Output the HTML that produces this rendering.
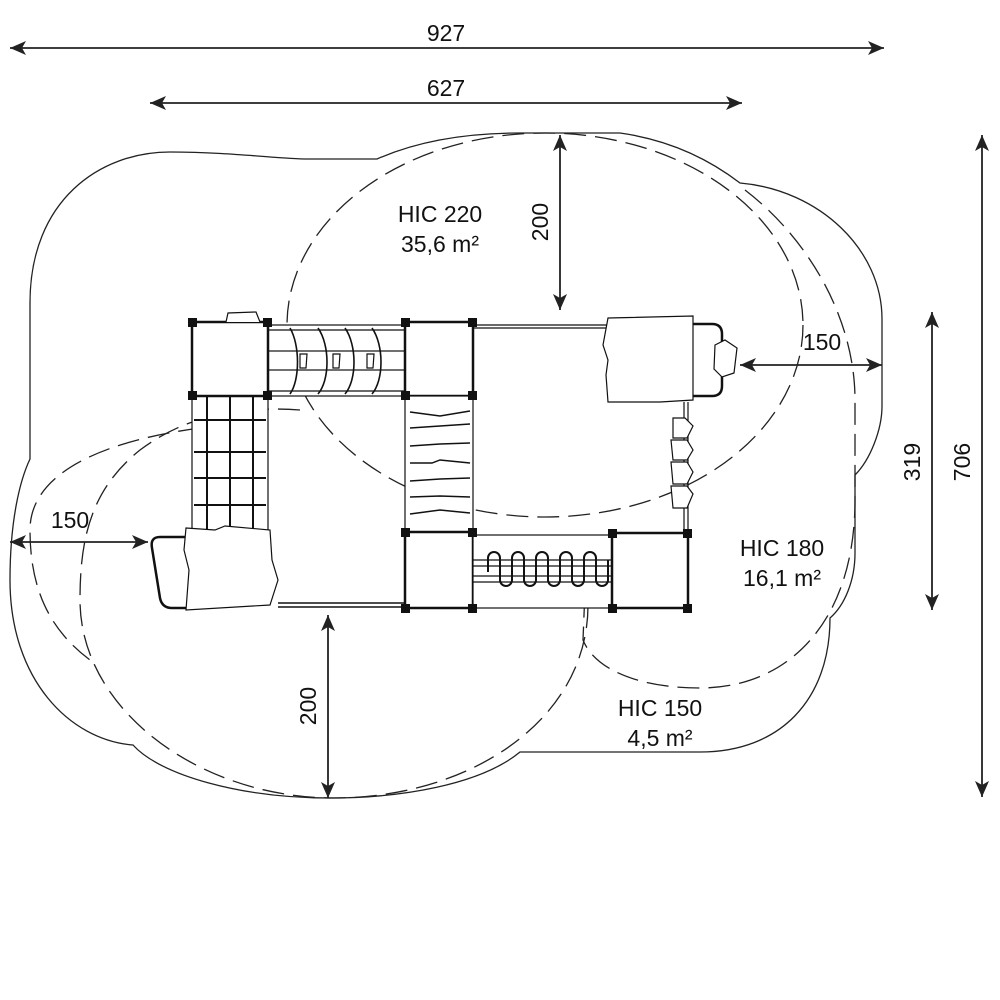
<!DOCTYPE html>
<html><head><meta charset="utf-8"><style>html,body{margin:0;padding:0;background:#fff}svg{display:block}</style></head>
<body>
<svg width="1000" height="1000" viewBox="0 0 1000 1000" xmlns="http://www.w3.org/2000/svg" font-family="'Liberation Sans', sans-serif">
<defs>
<marker id="a" viewBox="0 0 16 14" refX="16" refY="7" markerWidth="16" markerHeight="14" orient="auto-start-reverse" markerUnits="userSpaceOnUse"><path d="M0,0 L16,7 L0,14 L4,7 Z" fill="#222"/></marker>
</defs>
<rect width="1000" height="1000" fill="#fff"/>
<g fill="none" stroke="#222" stroke-width="1.3">
<path d="M30,459 L30,303 C30,200 100,152 170,152 C230,152 280,159 307,159 L377,159 C420,140 470,133 520,133 L620,133 C670,140 710,160 740,183 C820,190 882,250 882,319 L882,406 C882,430 870,460 855,475 L855,553 C855,580 845,605 830,618 C830,700 780,752 700,752 L520,752 C480,785 400,798 330,798 C240,798 160,775 133,745 C70,740 10,680 10,580 C10,520 20,480 30,459 Z"/>
</g>
<g fill="none" stroke="#222" stroke-width="1.3" stroke-dasharray="22,9">
<ellipse cx="545" cy="325" rx="258" ry="192"/>
<path d="M745,190 C810,240 855,320 855,400 L855,500 C855,620 790,688 700,688 C640,688 595,670 583,640 L585,590"/>
<path d="M300,410 C230,405 180,420 140,450 C90,490 80,540 80,600 C80,710 200,798 334,798 C470,798 588,720 588,605"/>
<path d="M200,428 C110,440 30,470 30,530 C30,590 50,630 90,660"/>
</g>
<g fill="#fff" stroke="#111" stroke-width="1.2">
<rect x="192" y="396" width="76" height="136"/>
<g stroke-width="2" fill="none">
<path d="M207,396V530 M230,396V530 M253,396V530"/>
<path d="M194,420H266 M194,452H266 M194,478H266 M194,505H266"/>
</g>
<rect x="268" y="325" width="137" height="71"/>
<path d="M268,330H405 M268,391H405" fill="none"/>
<rect x="268" y="351" width="137" height="19"/>
<g fill="none" stroke-width="1.6">
<path d="M290,328 C300,345 300,380 290,394 M318,328 C330,345 330,380 318,394 M345,328 C357,345 357,380 345,394 M372,328 C384,345 384,380 372,394"/>
</g>
<path d="M300,354h7l-1,14h-6z M333,354h7l-1,14h-6z M367,354h7l-1,14h-6z"/>
<rect x="192" y="322" width="76" height="74" stroke-width="2.5"/>
<path d="M226,322 L228,313 L256,312 L260,322" />
<rect x="405" y="322" width="68" height="74" stroke-width="2.5"/>
<rect x="405" y="396" width="68" height="136"/>
<g fill="none" stroke-width="1.4">
<path d="M410,412 L440,416 L470,411 M410,428 L440,426 L470,424 M410,446 L440,444 L470,443 M410,463 L432,463 L440,460 L470,463 M410,481 L440,479 L470,478 M410,497 L440,496 L470,497 M410,514 L440,510 L470,513"/>
</g>
<path d="M473,325H608 M473,328H608" fill="none"/>
<path d="M690,324 H712 Q722,324 722,334 V386 Q722,396 712,396 H690" fill="none" stroke-width="2.5"/>
<path d="M715,345 l10,-5 l12,8 l-3,25 l-12,4 l-8,-8 z"/>
<path d="M608,318 L693,316 L693,400 L660,402 L608,402 L606,375 L608,360 L603,345 Z"/>
<path d="M684,402V532 M688,402V532" fill="none"/>
<path d="M673,418 h12 l8,8 l-6,12 h-14 z M671,440 h16 l6,10 l-6,10 h-14 z M671,462 h16 l6,10 l-6,12 h-14 z M671,486 h16 l6,8 l-6,14 h-14 z"/>
<path d="M188,537 H160 Q150,537 152,548 L160,598 Q162,608 172,608 H188" fill="none" stroke-width="2.5"/>
<path d="M186,528 L215,530 L225,526 L270,530 L272,560 L278,580 L270,605 L186,610 L189,570 L184,550 Z"/>
<path d="M278,603H405 M278,607H405" fill="none" stroke-width="1.6"/>
<rect x="405" y="532" width="68" height="76" stroke-width="2.5"/>
<rect x="473" y="535" width="139" height="73"/>
<path d="M473,560H612 M473,566H612 M473,576H612 M473,582H612" fill="none"/>
<g fill="none" stroke-width="2">
<path d="M488,572 V558 a6,6 0 0 1 12,0 V580 a6,6 0 0 0 12,0 V558 a6,6 0 0 1 12,0 V580 a6,6 0 0 0 12,0 V558 a6,6 0 0 1 12,0 V580 a6,6 0 0 0 12,0 V558 a6,6 0 0 1 12,0 V580 a6,6 0 0 0 12,0 V558 a6,6 0 0 1 12,0 V580 a6,6 0 0 0 12,0 V560"/>
</g>
<rect x="612" y="533" width="76" height="75" stroke-width="2.5"/>
</g>
<g fill="#111">
<rect x="188" y="318" width="9" height="9"/><rect x="263" y="318" width="9" height="9"/>
<rect x="188" y="391" width="9" height="9"/><rect x="263" y="391" width="9" height="9"/>
<rect x="401" y="318" width="9" height="9"/><rect x="468" y="318" width="9" height="9"/>
<rect x="401" y="391" width="9" height="9"/><rect x="468" y="391" width="9" height="9"/>
<rect x="401" y="528" width="9" height="9"/><rect x="468" y="528" width="9" height="9"/>
<rect x="401" y="604" width="9" height="9"/><rect x="468" y="604" width="9" height="9"/>
<rect x="608" y="529" width="9" height="9"/><rect x="683" y="529" width="9" height="9"/>
<rect x="608" y="604" width="9" height="9"/><rect x="683" y="604" width="9" height="9"/>
</g>
<g stroke="#222" stroke-width="1.8" marker-start="url(#a)" marker-end="url(#a)">
<line x1="10" y1="48" x2="884" y2="48"/>
<line x1="150" y1="103" x2="742" y2="103"/>
<line x1="560" y1="135" x2="560" y2="310"/>
<line x1="740" y1="365" x2="882" y2="365"/>
<line x1="932" y1="312" x2="932" y2="610"/>
<line x1="982" y1="135" x2="982" y2="797"/>
<line x1="10" y1="542" x2="148" y2="542"/>
<line x1="328" y1="615" x2="328" y2="798"/>
</g>
<g fill="#111" font-size="23" text-anchor="middle">
<text x="446" y="41">927</text>
<text x="446" y="96">627</text>
<text x="822" y="350">150</text>
<text x="70" y="528">150</text>
<text transform="translate(548,222) rotate(-90)">200</text>
<text transform="translate(316,706) rotate(-90)">200</text>
<text transform="translate(920,462) rotate(-90)">319</text>
<text transform="translate(970,462) rotate(-90)">706</text>
<text x="440" y="222">HIC 220</text>
<text x="440" y="252">35,6 m²</text>
<text x="782" y="556">HIC 180</text>
<text x="782" y="586">16,1 m²</text>
<text x="660" y="716">HIC 150</text>
<text x="660" y="746">4,5 m²</text>
</g>
</svg>
</body></html>
